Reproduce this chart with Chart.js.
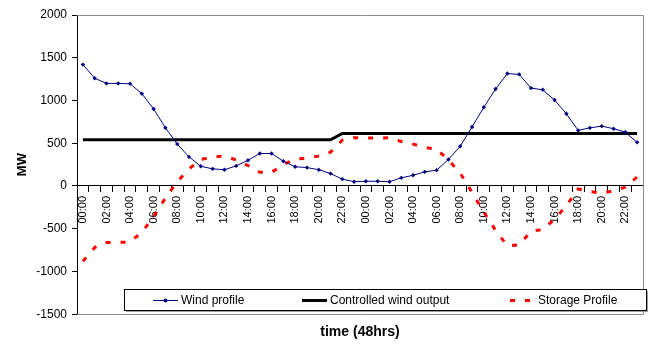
<!DOCTYPE html>
<html lang="en">
<head>
<meta charset="UTF-8">
<title>Wind profile</title>
<script src="https://cdn.jsdelivr.net/npm/chart.js@4"></script>
<style>
  html, body { margin: 0; padding: 0; background: #fff; }
</style>
</head>
<body>
<canvas id="grafica" width="665" height="345"></canvas>

<script>
// 48 horas, etiqueta cada hora (se muestran solo las pares)
var horas = ['00:00','01:00','02:00','03:00','04:00','05:00','06:00','07:00','08:00','09:00','10:00','11:00',
             '12:00','13:00','14:00','15:00','16:00','17:00','18:00','19:00','20:00','21:00','22:00','23:00',
             '00:00','01:00','02:00','03:00','04:00','05:00','06:00','07:00','08:00','09:00','10:00','11:00',
             '12:00','13:00','14:00','15:00','16:00','17:00','18:00','19:00','20:00','21:00','22:00','23:00'];

var viento = [1420,1260,1200,1200,1195,1080,900,680,490,340,230,200,190,235,300,380,380,290,225,215,190,145,80,50,
              55,55,50,95,125,165,185,310,465,690,920,1135,1315,1305,1145,1125,1005,845,650,680,700,670,630,510];

var controlado = [540,540,540,540,540,540,540,540,540,540,540,540,540,540,540,540,540,540,540,540,540,540,615,615,
                  615,615,615,615,615,615,615,615,615,615,615,615,615,615,615,615,615,615,615,615,615,615,615,615];

var almacen = [-880,-720,-660,-660,-655,-540,-360,-140,50,200,310,340,350,305,240,160,160,250,315,325,350,395,535,565,
               560,560,565,520,490,450,430,305,150,-75,-305,-520,-700,-690,-530,-510,-390,-230,-35,-65,-85,-55,-15,105];

var ticksY = [-1500, -1000, -500, 0, 500, 1000, 1500, 2000];

Chart.defaults.font.family = '"Liberation Sans", Arial, sans-serif';
Chart.defaults.color = '#000';

// borde gris del area de trazado (arriba, derecha, abajo)
var bordeArea = {
    id: 'bordeArea',
    beforeDatasetsDraw: function(chart) {
        var a = chart.chartArea, ctx = chart.ctx;
        ctx.save();
        ctx.strokeStyle = '#8c8c8c';
        ctx.lineWidth = 1;
        ctx.beginPath();
        ctx.moveTo(a.left, Math.round(a.top) + 0.5);
        ctx.lineTo(Math.round(a.right) + 0.5, Math.round(a.top) + 0.5);
        ctx.lineTo(Math.round(a.right) + 0.5, Math.round(a.bottom) + 0.5);
        ctx.lineTo(a.left, Math.round(a.bottom) + 0.5);
        ctx.stroke();
        ctx.restore();
    }
};

// leyenda dentro del grafico, con sombra, como en Excel
var leyenda = {
    id: 'leyenda',
    afterDraw: function(chart) {
        var a = chart.chartArea, ctx = chart.ctx;
        var x = Math.round(a.left) + 47, y = Math.round(a.bottom) - 25, w = 522, h = 21;
        ctx.save();
        ctx.fillStyle = '#a0a0a0';
        ctx.fillRect(x + 2, y + 2, w, h);
        ctx.fillStyle = '#fff';
        ctx.fillRect(x, y, w, h);
        ctx.strokeStyle = '#000';
        ctx.lineWidth = 1;
        ctx.strokeRect(x + 0.5, y + 0.5, w, h);

        var inicio = [29, 178, 386];
        var largo = [25, 25, 20];
        var hueco = [3, 3, 8];
        var cy = y + 11.5;
        chart.data.datasets.forEach(function(ds, i) {
            var sx = x + inicio[i];
            ctx.strokeStyle = ds.borderColor;
            ctx.lineWidth = ds.borderWidth;
            ctx.setLineDash(ds.borderDash || []);
            ctx.beginPath();
            ctx.moveTo(sx, cy);
            ctx.lineTo(sx + largo[i], cy);
            ctx.stroke();
            ctx.setLineDash([]);
            if (ds.pointRadius > 0) {
                ctx.fillStyle = ds.pointBackgroundColor;
                ctx.beginPath();
                ctx.arc(sx + largo[i] / 2, cy, 2, 0, Math.PI * 2);
                ctx.fill();
            }
            ctx.fillStyle = '#000';
            ctx.font = '12px "Liberation Sans", Arial, sans-serif';
            ctx.textBaseline = 'middle';
            ctx.fillText(ds.label, sx + largo[i] + hueco[i], cy);
        });
        ctx.restore();
    }
};

var ctx = document.getElementById('grafica').getContext('2d');
var grafica = new Chart(ctx, {
    type: 'line',
    data: {
        labels: horas,
        datasets: [{
            label: 'Wind profile',
            data: viento,
            borderColor: '#000080',
            backgroundColor: '#000080',
            pointBackgroundColor: '#000080',
            pointBorderColor: '#000080',
            pointStyle: 'rectRot',
            pointRadius: 2.2,
            pointBorderWidth: 0,
            borderWidth: 1,
            tension: 0
        }, {
            label: 'Controlled wind output',
            data: controlado,
            borderColor: '#000',
            backgroundColor: '#000',
            borderWidth: 3,
            pointRadius: 0,
            tension: 0
        }, {
            label: 'Storage Profile',
            data: almacen,
            borderColor: '#ff0000',
            backgroundColor: '#ff0000',
            borderWidth: 3,
            borderDash: [5, 10],
            borderCapStyle: 'butt',
            pointRadius: 0,
            tension: 0
        }]
    },
    options: {
        responsive: false,
        animation: false,
        devicePixelRatio: 1,
        layout: { padding: { left: 0, right: 22, top: 15, bottom: 0 } },
        plugins: {
            legend: { display: false },
            tooltip: { enabled: false },
            title: {
                display: true,
                text: 'time (48hrs)',
                position: 'bottom',
                fullSize: false,
                color: '#000',
                font: { size: 14, weight: 'bold' },
                padding: { top: 10, bottom: 4 }
            }
        },
        scales: {
            x: {
                position: { y: 0 },
                offset: true,
                grid: { offset: true, drawOnChartArea: false, drawTicks: true, tickLength: 6, color: '#000' },
                border: { color: '#000', width: 1 },
                ticks: {
                    autoSkip: false,
                    minRotation: 90,
                    maxRotation: 90,
                    padding: 4,
                    color: '#000',
                    font: { size: 11 },
                    callback: function(v, i) { return i % 2 === 0 ? horas[i] : ''; }
                }
            },
            y: {
                min: ticksY[0],
                max: ticksY[ticksY.length - 1],
                afterFit: function(s) { s.width = 77; },
                afterBuildTicks: function(s) { s.ticks = ticksY.map(function(v) { return { value: v }; }); },
                grid: { drawOnChartArea: false, drawTicks: true, tickLength: 5, color: '#000' },
                border: { color: '#000', width: 1 },
                ticks: {
                    padding: 5,
                    color: '#000',
                    font: { size: 12 },
                    callback: function(v) { return String(v); }
                },
                title: {
                    display: true,
                    text: 'MW',
                    color: '#000',
                    font: { size: 13, weight: 'bold' },
                    padding: { top: 15, bottom: 0 }
                }
            }
        }
    },
    plugins: [bordeArea, leyenda]
});
</script>
</body>
</html>
